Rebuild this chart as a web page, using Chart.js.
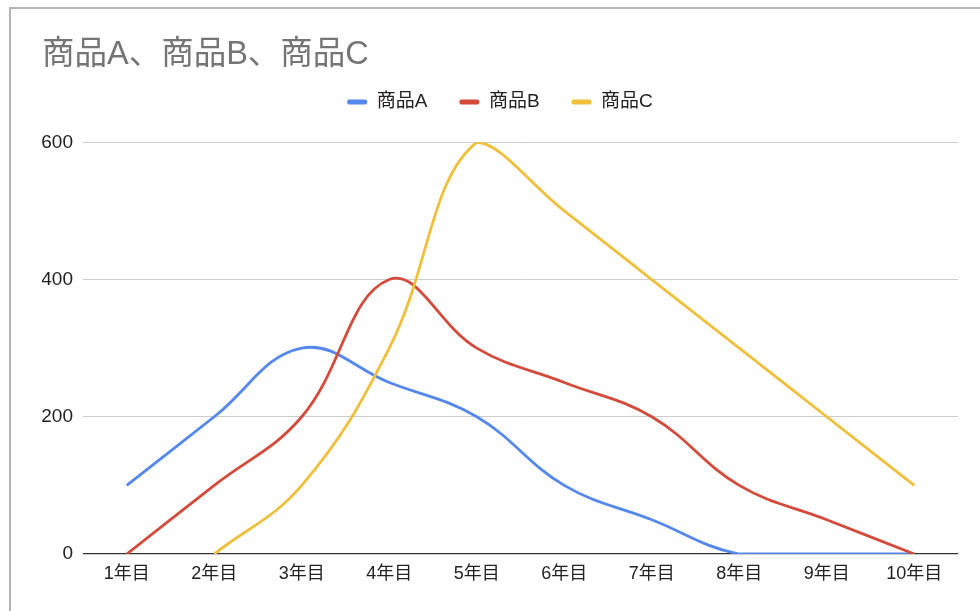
<!DOCTYPE html>
<html>
<head>
<meta charset="utf-8">
<script src="https://cdn.jsdelivr.net/npm/chart.js@4.4.1/dist/chart.umd.min.js"></script>
<style>
  html, body { margin: 0; padding: 0; background: #fff; }
  #wrap { position: relative; width: 980px; height: 611px; overflow: hidden; }
  #frame {
    position: absolute; left: 9px; top: 7px; width: 1100px; height: 800px;
    border-top: 2px solid #b3b3b3; border-left: 2px solid #b3b3b3;
  }
  #chart { position: absolute; left: 0; top: 0; }
</style>
</head>
<body>
<div id="wrap">
  <div id="frame"></div>
  <canvas id="chart" width="980" height="611"></canvas>
</div>
<script>
// chart values
const labels = ["1年目", "2年目", "3年目", "4年目", "5年目", "6年目", "7年目", "8年目", "9年目", "10年目"];
const itemA = [100, 200, 300, 250, 200, 100, 50, 0, 0, 0];
const itemB = [0, 100, 200, 400, 300, 250, 200, 100, 50, 0];
const itemC = [null, 0, 100, 300, 600, 500, 400, 300, 200, 100];
const yTicks = [0, 200, 400, 600];

const fontFamily = "'Liberation Sans', Arial, 'Noto Sans CJK JP', sans-serif";

function line(label, values, color, order) {
    return {
        label: label,
        data: values,
        borderColor: color,
        backgroundColor: color,
        borderWidth: 2.8,
        tension: 0.4,
        pointRadius: 0,
        pointHoverRadius: 0,
        fill: false,
        order: order
    };
}

const data = {
    labels: labels,
    datasets: [
        line("商品A", itemA, "#5588ec", 3),
        line("商品B", itemB, "#d54b3b", 2),
        line("商品C", itemC, "#f0bf3c", 1)
    ]
};

const config = {
    type: "line",
    data: data,
    options: {
        responsive: false,
        animation: false,
        layout: {
            padding: { left: 42, right: 22, top: 0, bottom: 0 }
        },
        plugins: {
            title: {
                display: true,
                text: "商品A、商品B、商品C",
                align: "start",
                color: "#757575",
                font: { family: fontFamily, size: 32.5, weight: "normal" },
                padding: { top: 36, bottom: -14.4 }
            },
            // empty spacer between legend and plot
            subtitle: {
                display: true,
                text: "",
                weight: 500,
                font: { size: 10 },
                padding: { top: 0, bottom: 8.7 }
            },
            legend: {
                display: true,
                position: "top",
                labels: {
                    boxWidth: 20,
                    boxHeight: 5,
                    useBorderRadius: true,
                    borderRadius: 2,
                    padding: 32,
                    color: "#222",
                    font: { family: fontFamily, size: 19 },
                    generateLabels: (chart) => {
                        const items = Chart.defaults.plugins.legend.labels.generateLabels(chart);
                        items.forEach(it => { it.lineWidth = 0; });
                        return items;
                    },
                    sort: (a, b) => a.datasetIndex - b.datasetIndex
                }
            },
            tooltip: { enabled: false }
        },
        scales: {
            x: {
                offset: true,
                grid: { display: false, drawTicks: false },
                border: { display: false },
                ticks: {
                    color: "#222",
                    padding: 9,
                    maxRotation: 0,
                    font: { family: fontFamily, size: 18 }
                },
                afterFit: (scale) => { scale.height = 57; }
            },
            y: {
                min: 0,
                max: 600,
                afterBuildTicks: (scale) => {
                    scale.ticks = yTicks.map(v => ({ value: v }));
                },
                grid: {
                    drawTicks: false,
                    color: (ctx) => ctx.tick && ctx.tick.value === 0 ? "#333" : "#cccccc",
                    lineWidth: (ctx) => ctx.tick && ctx.tick.value === 0 ? 1.3 : 1
                },
                border: { display: false },
                ticks: {
                    color: "#222",
                    padding: 10,
                    font: { family: fontFamily, size: 19 }
                },
                afterFit: (scale) => { scale.width = 41; }
            }
        }
    }
};

const chart = new Chart(document.getElementById("chart"), config);
</script>
</body>
</html>
